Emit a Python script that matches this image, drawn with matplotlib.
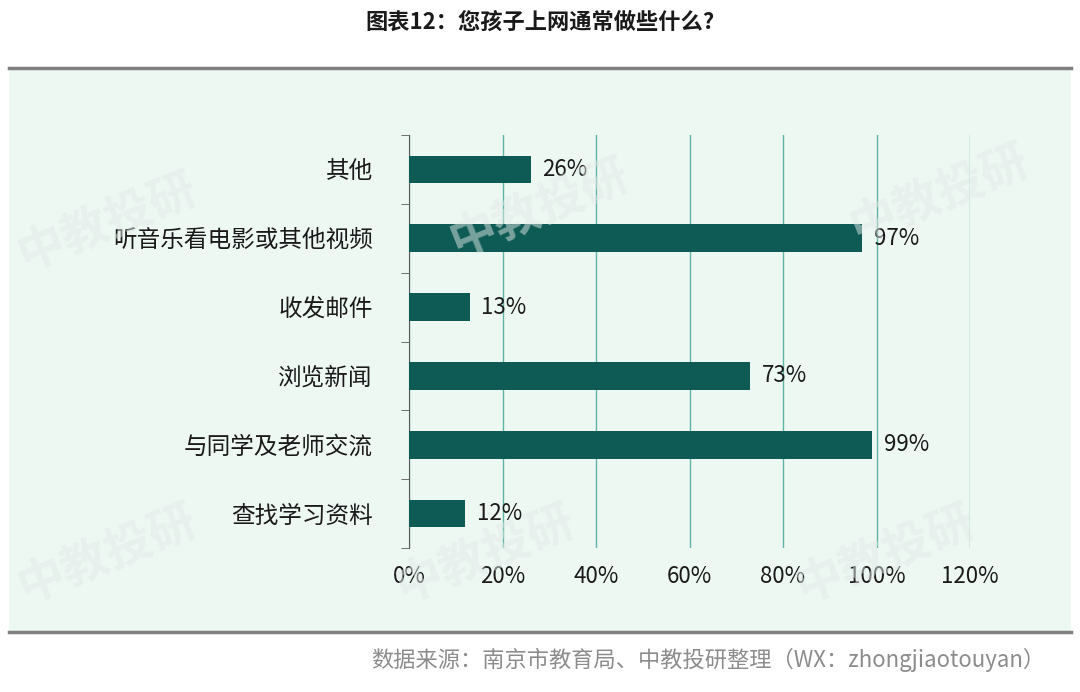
import matplotlib.pyplot as plt
from matplotlib.patches import Rectangle
from matplotlib.lines import Line2D

plt.rcParams['font.family'] = ['Noto Sans CJK SC', 'DejaVu Sans']

categories = ['查找学习资料', '与同学及老师交流', '浏览新闻', '收发邮件', '听音乐看电影或其他视频', '其他']
values = [12, 99, 73, 13, 97, 26]
xticks = [0, 20, 40, 60, 80, 100, 120]

fig = plt.figure(figsize=(10.8, 6.92), dpi=100)
fig.patch.set_facecolor('white')

# panel background and frame lines
fig.add_artist(Rectangle((0.008, 1 - 632 / 692), 0.984, (632 - 68) / 692,
                         transform=fig.transFigure, facecolor='#eef8f3', edgecolor='none', zorder=0))
fig.add_artist(Line2D([0.008, 0.992], [1 - 68 / 692] * 2, color='#7f7f7f', lw=2.5))
fig.add_artist(Line2D([0.008, 0.992], [1 - 632 / 692] * 2, color='#7f7f7f', lw=2.5))

fig.text(0.5, 1 - 22 / 692, '图表12：您孩子上网通常做些什么?', ha='center', va='center',
         fontsize=16, fontweight='bold', color='#1a1a1a')
fig.text(0.968, 1 - 660 / 692, '数据来源：南京市教育局、中教投研整理（WX：zhongjiaotouyan）',
         ha='right', va='center', fontsize=16, color='#8c8c8c')

# watermarks
for (wx, wy) in [(0.1, 0.2), (0.1, 0.68), (0.45, 0.2), (0.5, 0.7), (0.82, 0.2), (0.87, 0.72)]:
    fig.text(wx, wy, '中教投研', ha='center', va='center', fontsize=34, fontweight='bold',
             color='#e0e8e5', alpha=0.5, rotation=22, zorder=0.5)

ax = fig.add_axes([409 / 1080, 1 - 548 / 692, (970 - 409) / 1080, (548 - 135) / 692])
ax.set_facecolor('none')
y = range(len(categories))
ax.barh(y, values, height=0.4, color='#0e5b56', zorder=3)
for yi, v in zip(y, values):
    ax.text(v + 2.5, yi, f'{v}%', va='center', ha='left', fontsize=16, color='#1a1a1a')

ax.set_xlim(0, 120)
ax.set_ylim(-0.5, len(categories) - 0.5)
ax.set_xticks(xticks)
ax.set_xticklabels([f'{t}%' for t in xticks], fontsize=16, color='#1a1a1a')
ax.set_yticks(list(y))
ax.set_yticklabels(categories, fontsize=17, color='#1a1a1a')
ax.set_yticks([i - 0.5 for i in range(len(categories) + 1)], minor=True)
ax.tick_params(axis='y', which='major', length=0, pad=26)
ax.tick_params(axis='y', which='minor', length=6, color='#595959')
ax.tick_params(axis='x', length=0, pad=12)
ax.grid(axis='x', color='#5fb3a5', lw=1, zorder=1)
for s in ['top', 'right', 'bottom']:
    ax.spines[s].set_visible(False)
ax.spines['left'].set_color('#595959')

fig.savefig('out.png', dpi=100)
